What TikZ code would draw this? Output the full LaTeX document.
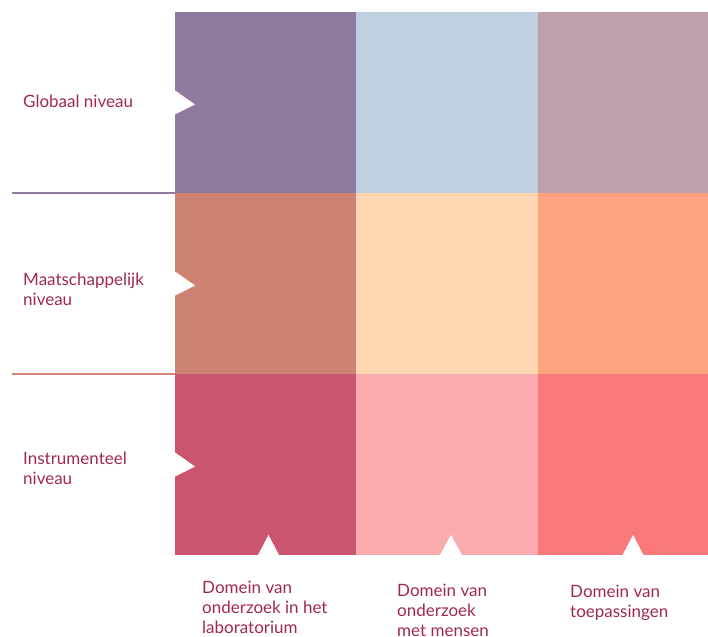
\documentclass[tikz,border=0pt]{standalone}
\usepackage{fontspec}
\setmainfont{Lato}
\usetikzlibrary{positioning}

\definecolor{glob1}{RGB}{143,122,159}
\definecolor{glob2}{RGB}{191,207,223}
\definecolor{glob3}{RGB}{191,158,174}
\definecolor{maat1}{RGB}{206,130,114}
\definecolor{maat2}{RGB}{254,214,177}
\definecolor{maat3}{RGB}{254,165,128}
\definecolor{instr1}{RGB}{203,85,111}
\definecolor{instr2}{RGB}{251,170,174}
\definecolor{instr3}{RGB}{251,120,122}
\definecolor{labeltext}{RGB}{160,40,80}
\definecolor{lineorange}{RGB}{208,135,120}

\tikzset{
  cell/.style={inner sep=0pt,outer sep=0pt,minimum height=181pt},
  levellabel/.style={anchor=base west,align=left,inner sep=0pt,text=labeltext,
    font=\fontsize{17}{19.8}\selectfont},
  notch/.style={white}
}

\begin{document}
\begin{tikzpicture}[x=1pt,y=-1pt]
        \useasboundingbox (0,0) rectangle (708,636);
        \clip (0,0) rectangle (708,636);
        % grid of cells
        \node[cell,fill=glob1,minimum width=181pt] (g1) at (265.5,102.5) {};
        \node[cell,fill=glob2,minimum width=182pt] (g2) at (447,102.5) {};
        \node[cell,fill=glob3,minimum width=171pt] (g3) at (623.5,102.5) {};
        \node[cell,fill=maat1,minimum width=181pt] (m1) at (265.5,283.5) {};
        \node[cell,fill=maat2,minimum width=182pt] (m2) at (447,283.5) {};
        \node[cell,fill=maat3,minimum width=171pt] (m3) at (623.5,283.5) {};
        \node[cell,fill=instr1,minimum width=181pt] (i1) at (265.5,464.5) {};
        \node[cell,fill=instr2,minimum width=182pt] (i2) at (447,464.5) {};
        \node[cell,fill=instr3,minimum width=171pt] (i3) at (623.5,464.5) {};

        % notches
        \fill[notch] ([yshift=-12pt]g1.west) -- ([xshift=20pt,yshift=-2pt]g1.west) -- ([yshift=12pt]g1.west) -- cycle;
        \fill[notch] ([yshift=-12pt]m1.west) -- ([xshift=20pt,yshift=-2pt]m1.west) -- ([yshift=12pt]m1.west) -- cycle;
        \fill[notch] ([yshift=-12pt]i1.west) -- ([xshift=20pt,yshift=-2pt]i1.west) -- ([yshift=12pt]i1.west) -- cycle;
        \fill[notch] ([xshift=-7.5pt]i1.south) -- ([xshift=3pt,yshift=20pt]i1.south) -- ([xshift=13.5pt]i1.south) -- cycle;
        \fill[notch] ([xshift=-7pt]i2.south) -- ([xshift=4pt,yshift=20pt]i2.south) -- ([xshift=15pt]i2.south) -- cycle;
        \fill[notch] ([xshift=-1pt]i3.south) -- ([xshift=9.5pt,yshift=20pt]i3.south) -- ([xshift=20pt]i3.south) -- cycle;

        % separator lines
        \coordinate (s1) at (12,193);
        \coordinate (s2) at (12,374);
        \draw[glob1,line width=1.3pt] (s1) -- (g1.south west);
        \draw[lineorange,line width=1.3pt] (s2) -- (m1.south west);

        % row labels (base = last line)
        \node[levellabel] (lglob) at (23,108) {Globaal niveau};
        \node[levellabel] (lmaat) at (23,305) {Maatschappelijk\\niveau};
        \node[levellabel] (linstr) at (23,484) {Instrumenteel\\niveau};

        % column labels
        \node[levellabel] (dlab) at (202,633) {Domein van\\onderzoek in het\\laboratorium};
        \node[levellabel] (dmens) at (397,636) {Domein van\\onderzoek\\met mensen};
        \node[levellabel] (dtoep) at (570,617) {Domein van\\toepassingen};
    \end{tikzpicture}
\end{document}
